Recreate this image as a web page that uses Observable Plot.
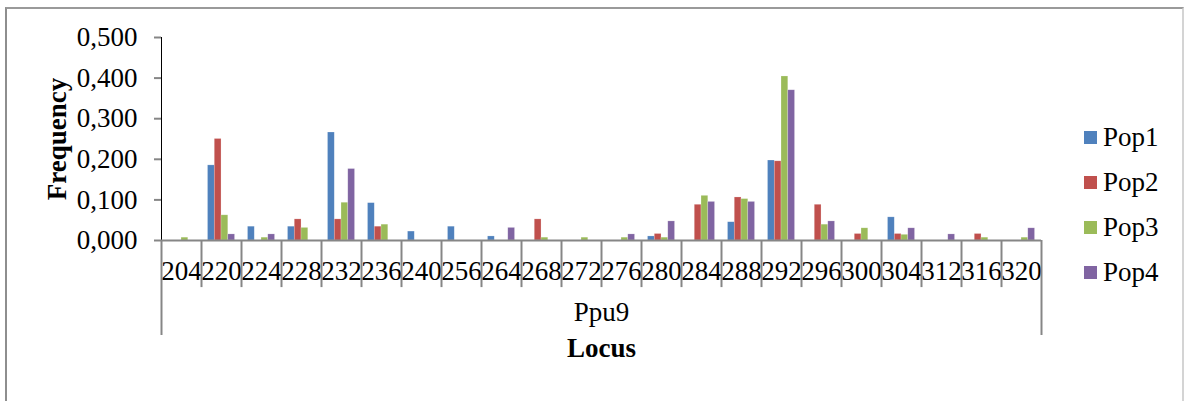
<!DOCTYPE html>
<html><head><meta charset="utf-8">
<script src="https://cdn.jsdelivr.net/npm/d3@7"></script>
<script src="https://cdn.jsdelivr.net/npm/@observablehq/plot@0.6"></script>
<style>
body{margin:0;overflow:hidden;background:#fff}
#wrap{position:relative;width:1184px;height:401px;overflow:hidden;background:#fff}
#border{position:absolute;left:5px;top:7px;width:1175px;height:430px;border-left:2px solid #8e8e8e;border-top:2px solid #9a9a9a;border-right:2px solid #d4d4d4;pointer-events:none}
#legend{position:absolute;left:1084px;top:115px;font-family:"Liberation Serif",serif;font-size:27px;color:#000}
.item{display:flex;align-items:center;height:45px}
.sw{width:13px;height:13px;margin-right:6px}
svg g[aria-label^="y-axis"] line, svg g[aria-label^="y-axis"] path{stroke:#868686;stroke-width:2}
</style>
</head><body>
<div id="wrap"><div id="chart"></div><div id="legend"></div><div id="border"></div></div>
<script>
const categories = ["204","220","224","228","232","236","240","256","264","268","272","276","280","284","288","292","296","300","304","312","316","320"];
const pops = ["Pop1","Pop2","Pop3","Pop4"];
const colors = ["#4F81BD","#C0504D","#9BBB59","#8064A2"];
const pop1 = [0,0.185,0.034,0.034,0.266,0.092,0.022,0.034,0.010,0,0,0,0.010,0,0.045,0.197,0,0,0.057,0,0,0];
const pop2 = [0,0.250,0,0.052,0.052,0.034,0,0,0,0.052,0,0,0.016,0.088,0.106,0.195,0.088,0.016,0.016,0,0.016,0];
const pop3 = [0.007,0.062,0.007,0.031,0.093,0.039,0,0,0,0.007,0.007,0.007,0.007,0.110,0.102,0.404,0.039,0.030,0.014,0,0.007,0.007];
const pop4 = [0,0.015,0.015,0,0.176,0,0,0,0.031,0,0,0.015,0.047,0.095,0.095,0.370,0.047,0,0.030,0.015,0,0.030];
const yTicks = [0,0.1,0.2,0.3,0.4,0.5];
const groupLabel = "Ppu9";
const xTitle = "Locus";
const yTitle = "Frequency";

const series = [pop1,pop2,pop3,pop4];
const W = 1184, H = 401, mL = 161, mR = 143, mT = 37, mB = 161;
const band = (W - mL - mR) / categories.length;
const barW = band * 0.169, lead = band * 0.1625;
const axisGray = "#868686";
const font = '"Liberation Serif", serif';

const barMarks = series.map((vals, i) => {
  const rows = categories.map((c, k) => ({allele: c, value: vals[k]})).filter(d => d.value > 0);
  return Plot.barY(rows, {
    x: "allele", y: "value", fill: colors[i],
    insetLeft: lead + i * barW, insetRight: band - lead - (i + 1) * barW,
    stroke: "#ffffff", strokeOpacity: 0.35, strokeWidth: 0.6
  });
});

const chart = Plot.plot({
  width: W, height: H,
  marginLeft: mL, marginRight: mR, marginTop: mT, marginBottom: mB,
  style: {fontFamily: font, fontSize: "27px", background: "transparent", color: "#000", overflow: "visible"},
  x: {domain: categories, padding: 0, label: null, tickSize: 0, tickPadding: 20},
  y: {domain: [0, 0.5], ticks: yTicks, tickFormat: d => d.toFixed(3).replace(".", ","), label: null, tickSize: 7, tickPadding: 17, line: true},
  marks: [
    ...barMarks,
    Plot.ruleY([0], {stroke: axisGray, strokeWidth: 2}),
    Plot.ruleX(categories.slice(1), {x: d => d, y1: 0, y2: -0.116, dx: -band / 2, stroke: axisGray, strokeWidth: 2}),
    Plot.ruleX([categories[0]], {x: d => d, y1: 0, y2: -0.234, dx: -band / 2, stroke: axisGray, strokeWidth: 2}),
    Plot.ruleX([categories[categories.length - 1]], {x: d => d, y1: 0, y2: -0.234, dx: band / 2, stroke: axisGray, strokeWidth: 2}),
    Plot.text([groupLabel], {text: d => d, frameAnchor: "bottom", dy: 80, fontSize: 27, fill: "#000"}),
    Plot.text([xTitle], {text: d => d, frameAnchor: "bottom", dy: 116, fontSize: 27, fontWeight: "bold", fill: "#000"}),
    Plot.text([yTitle], {text: d => d, frameAnchor: "left", textAnchor: "middle", dx: -104, rotate: -90, fontSize: 27, fontWeight: "bold", fill: "#000"})
  ]
});
document.getElementById("chart").appendChild(chart);

const legend = d3.select("#legend");
pops.forEach((p, i) => {
  const it = legend.append("div").attr("class", "item");
  it.append("div").attr("class", "sw").style("background", colors[i]);
  it.append("span").text(p);
});
</script>
</body></html>
